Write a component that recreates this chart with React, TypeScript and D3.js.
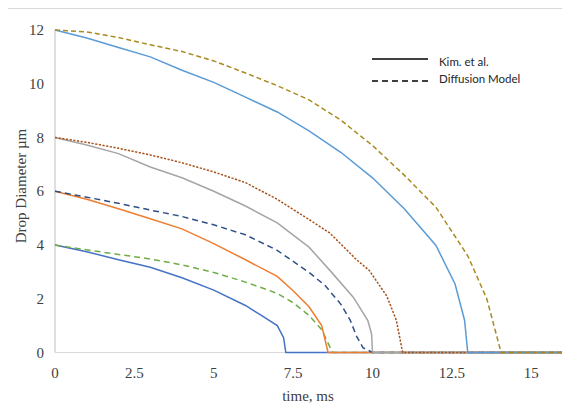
import React from "react";
import * as d3 from "d3";

const xTicks = [0, 2.5, 5, 7.5, 10, 12.5, 15];
const yTicks = [0, 2, 4, 6, 8, 10, 12];

// [time ms, diameter µm]
const kim4: [number, number][] = [[0,4],[1,3.75],[2,3.45],[3,3.17],[4,2.78],[5,2.32],[6,1.75],[6.5,1.38],[7,1.0],[7.2,0.55],[7.27,0],[16,0]];
const diff4: [number, number][] = [[0,4],[1,3.82],[2,3.65],[3,3.48],[4,3.26],[5,2.98],[6,2.62],[7,2.2],[7.5,1.85],[8,1.38],[8.4,0.85],[8.74,0],[16,0]];
const kim6: [number, number][] = [[0,6],[1,5.7],[2,5.35],[3,4.98],[4,4.6],[5,4.05],[6,3.45],[7,2.83],[7.5,2.3],[8,1.7],[8.4,1.0],[8.6,0],[16,0]];
const diff6: [number, number][] = [[0,6],[1,5.78],[2,5.55],[3,5.3],[4,5.06],[5,4.75],[6,4.38],[7,3.8],[8,2.98],[8.5,2.5],[9,1.8],[9.3,1.2],[9.5,0.6],[9.7,0.18],[10,0],[16,0]];
const kim8: [number, number][] = [[0,8],[1,7.72],[2,7.4],[3,6.9],[4,6.5],[5,6.0],[6,5.45],[7,4.82],[8,3.92],[8.7,3.0],[9.4,2.05],[9.85,1.2],[9.97,0.7],[10,0],[16,0]];
const diff8: [number, number][] = [[0,8],[1,7.82],[2,7.6],[3,7.35],[4,7.06],[5,6.72],[6,6.32],[7,5.7],[8,4.95],[8.65,4.45],[9.5,3.45],[9.9,3.05],[10.45,2.1],[10.75,1.2],[10.95,0],[16,0]];
const kim12: [number, number][] = [[0,12],[1,11.7],[2,11.35],[3,11.0],[4,10.5],[5,10.05],[6,9.5],[7,8.95],[8,8.25],[9,7.45],[10,6.5],[11,5.35],[12,3.98],[12.6,2.55],[12.9,1.2],[13,0],[16,0]];
const diff12: [number, number][] = [[0,12],[1,11.93],[2,11.72],[3,11.45],[4,11.2],[5,10.85],[6,10.4],[7,9.93],[8,9.4],[9,8.65],[10,7.7],[11,6.6],[12,5.4],[13,3.6],[13.6,2.0],[14.05,0],[16,0]];

const seriesList = [
  { data: kim4, color: "#4472C4", dash: "" },
  { data: diff4, color: "#70AD47", dash: "6,4" },
  { data: kim6, color: "#ED7D31", dash: "" },
  { data: diff6, color: "#2F4F86", dash: "6,4" },
  { data: kim8, color: "#A5A5A5", dash: "" },
  { data: diff8, color: "#A8521A", dash: "2.2,1.5" },
  { data: kim12, color: "#5B9BD5", dash: "" },
  { data: diff12, color: "#AA8A1E", dash: "5,3" },
];

const legendItems = [
  { label: "Kim. et al.", dash: "" },
  { label: "Diffusion Model", dash: "6,4" },
];

export default function App() {
  const x = d3.scaleLinear().domain([0, 16]).range([55, 563]);
  const y = d3.scaleLinear().domain([0, 12]).range([352.5, 30]);
  const line = d3.line<[number, number]>().x(d => x(d[0])).y(d => y(d[1]));
  const serif = "'Liberation Serif', 'Times New Roman', serif";
  return (
    <svg width={562} height={403} style={{ display: "block" }}>
      <g transform="translate(-8,-8)">
        <rect x={0} y={0} width={570} height={411} fill="#fff" />
        <line x1={7.5} y1={8.5} x2={580} y2={8.5} stroke="#D9D9D9" strokeWidth={1} />
        <line x1={7.5} y1={8.5} x2={7.5} y2={420} stroke="#D9D9D9" strokeWidth={1} />
        <line x1={x(0)} y1={y(12)} x2={x(0)} y2={y(0)} stroke="#BFBFBF" strokeWidth={1} />
        <line x1={x(0)} y1={y(0)} x2={x(16)} y2={y(0)} stroke="#D9D9D9" strokeWidth={1} />
        {yTicks.map(t => (
          <text key={"y" + t} x={44} y={y(t) + 5} textAnchor="end" fontFamily={serif} fontSize={15} fill="#404040">{t}</text>
        ))}
        {xTicks.map(t => (
          <text key={"x" + t} x={x(t)} y={378} textAnchor="middle" fontFamily={serif} fontSize={15} fill="#404040">{t}</text>
        ))}
        <text x={308} y={401} textAnchor="middle" fontFamily={serif} fontSize={15} fill="#404040">time, ms</text>
        <text transform="translate(26,186) rotate(-90)" textAnchor="middle" fontFamily={serif} fontSize={15} fill="#404040">Drop Diameter µm</text>
        {seriesList.map((s, i) => (
          <path key={i} d={line(s.data) || ""} fill="none" stroke={s.color} strokeWidth={1.5} strokeDasharray={s.dash || undefined} />
        ))}
        {legendItems.map((l, i) => (
          <g key={l.label}>
            <line x1={372} x2={428} y1={59 + i * 22} y2={59 + i * 22} stroke="#000" strokeWidth={1.5} strokeDasharray={l.dash || undefined} />
            <text x={439} y={66 + i * 17} fontFamily="Lato, 'Open Sans', sans-serif" fontSize={11.5} fill="#262626">{l.label}</text>
          </g>
        ))}
      </g>
    </svg>
  );
}
